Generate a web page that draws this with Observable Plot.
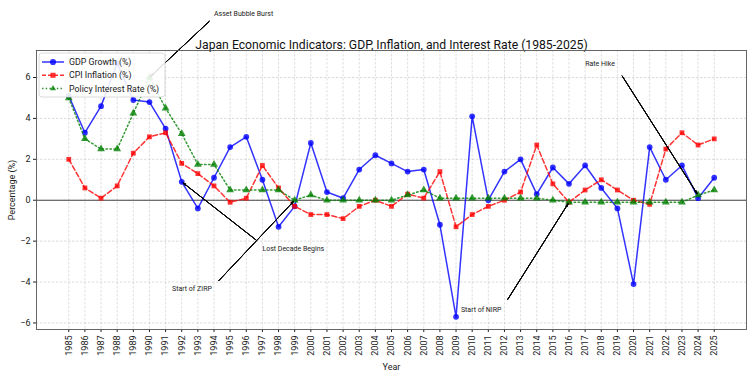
<!DOCTYPE html>
<html>
<head>
<meta charset="utf-8">
<script src="https://cdn.jsdelivr.net/npm/d3@7"></script>
<script src="https://cdn.jsdelivr.net/npm/@observablehq/plot@0.6"></script>
<style>
  body { margin: 0; background: #fff; font-family: Roboto, "Open Sans", sans-serif; }
  #wrap { width: 753px; height: 376px; }
</style>
</head>
<body>
<div id="wrap"></div>
<script>
// ---- data ----
const years = [1985,1986,1987,1988,1989,1990,1991,1992,1993,1994,1995,1996,1997,1998,1999,2000,2001,2002,2003,2004,2005,2006,2007,2008,2009,2010,2011,2012,2013,2014,2015,2016,2017,2018,2019,2020,2021,2022,2023,2024,2025];
const gdp = [5.1,3.3,4.6,6.7,4.9,4.8,3.5,0.9,-0.4,1.1,2.6,3.1,1.0,-1.3,-0.3,2.8,0.4,0.1,1.5,2.2,1.8,1.4,1.5,-1.2,-5.7,4.1,0.0,1.4,2.0,0.3,1.6,0.8,1.7,0.6,-0.4,-4.1,2.6,1.0,1.7,0.1,1.1];
const cpi = [2.0,0.6,0.1,0.7,2.3,3.1,3.3,1.8,1.3,0.7,-0.1,0.1,1.7,0.6,-0.3,-0.7,-0.7,-0.9,-0.3,0.0,-0.3,0.3,0.1,1.4,-1.3,-0.7,-0.3,0.0,0.4,2.7,0.8,-0.1,0.5,1.0,0.5,0.0,-0.2,2.5,3.3,2.7,3.0];
const rate = [5.0,3.0,2.5,2.5,4.25,6.0,4.5,3.25,1.75,1.75,0.5,0.5,0.5,0.5,0.0,0.25,0.0,0.0,0.0,0.0,0.0,0.25,0.5,0.1,0.1,0.1,0.1,0.1,0.1,0.1,0.0,-0.1,-0.1,-0.1,-0.1,-0.1,-0.1,-0.1,-0.1,0.25,0.5];
const yTicks = [-6,-4,-2,0,2,4,6];
const seriesNames = ["GDP Growth (%)", "CPI Inflation (%)", "Policy Interest Rate (%)"];
const titleText = "Japan Economic Indicators: GDP, Inflation, and Interest Rate (1985-2025)";

// annotations (data coordinates)
const annLabels = ["Asset Bubble Burst", "Lost Decade Begins", "Start of ZIRP", "Start of NIRP", "Rate Hike"];
const annTextX = [1994.0, 1997.0, 1991.4, 2009.3, 2017.0];
const annTextY = [9.14, -2.35, -4.34, -5.35, 6.66];
const annFromX = [1993.7, 1996.6, 1994.3, 2012.2, 2019.3];
const annFromY = [8.74, -1.94, -3.93, -4.85, 6.07];
const annToX = [1990, 1992, 1999, 2016, 2024];
const annToY = [6.0, 0.9, 0.0, -0.1, 0.25];

// ---- tables ----
const rows = years.map((year, i) => ({year, gdp: gdp[i], cpi: cpi[i], rate: rate[i]}));
const texts = annLabels.map((label, i) => ({label, x: annTextX[i], y: annTextY[i]}));
const arrows = annLabels.map((label, i) => ({x1: annFromX[i], y1: annFromY[i], x2: annToX[i], y2: annToY[i]}));

const all = gdp.concat(cpi, rate);
const [lo, hi] = d3.extent(all);
const yPad = (hi - lo) * 0.05;
const xPad = (years[years.length - 1] - years[0]) * 0.05;

const BLUE = "#0000ff", RED = "#ff0000", GREEN = "#008000";
const fmt = d => d < 0 ? "\u2212" + Math.abs(d) : String(d);

const arrowMarks = [8, 16, 24, 32, 40].map(a => Plot.arrow(arrows, {
  x1: "x1", y1: "y1", x2: "x2", y2: "y2", stroke: "#000", strokeWidth: 0.8,
  headLength: 5, headAngle: a, insetEnd: 2
}));

const chart = Plot.plot({
  width: 753, height: 376,
  marginTop: 50, marginLeft: 36, marginRight: 7, marginBottom: 47,
  style: {fontFamily: "Roboto, 'Open Sans', sans-serif", fontSize: "9px", background: "#fff", color: "#222", overflow: "visible"},
  x: {domain: [years[0] - xPad, years[years.length - 1] + xPad], ticks: years, tickFormat: d => String(d),
      tickRotate: -90, label: "Year", labelAnchor: "center", labelOffset: 40, labelArrow: false, tickSize: 3, tickPadding: 3},
  y: {domain: [lo - yPad, hi + yPad], ticks: yTicks, tickFormat: fmt,
      label: "Percentage (%)", labelAnchor: "center", labelOffset: 28, labelArrow: false, tickSize: 3, tickPadding: 3},
  marks: [
    Plot.gridX(years, {stroke: "#b0b0b0", strokeOpacity: 0.4, strokeDasharray: "2.5,1.5"}),
    Plot.gridY(yTicks, {stroke: "#b0b0b0", strokeOpacity: 0.45, strokeDasharray: "2.5,1.5"}),
    Plot.ruleY([0], {stroke: "#444", strokeWidth: 1.1}),
    Plot.line(rows, {x: "year", y: "gdp", stroke: BLUE, strokeWidth: 1.5, strokeOpacity: 0.8}),
    Plot.dot(rows, {x: "year", y: "gdp", fill: BLUE, fillOpacity: 0.8, r: 2.9, symbol: "circle"}),
    Plot.line(rows, {x: "year", y: "cpi", stroke: RED, strokeWidth: 1.5, strokeOpacity: 0.8, strokeDasharray: "5,2.5"}),
    Plot.dot(rows, {x: "year", y: "cpi", fill: RED, fillOpacity: 0.8, r: 2.7, symbol: "square"}),
    Plot.line(rows, {x: "year", y: "rate", stroke: GREEN, strokeWidth: 1.5, strokeOpacity: 0.8, strokeDasharray: "1.5,2.5"}),
    Plot.dot(rows, {x: "year", y: "rate", fill: GREEN, fillOpacity: 0.8, r: 2.9, symbol: "triangle"}),
    ...arrowMarks,
    Plot.text(texts, {x: "x", y: "y", text: "label", textAnchor: "start", lineAnchor: "middle", fontSize: 7, fill: "#222"}),
    Plot.text([titleText], {frameAnchor: "top", lineAnchor: "bottom", dy: -2, fontSize: 12.2, fill: "#111"}),
    Plot.frame({stroke: "#555", strokeWidth: 0.9})
  ]
});

document.getElementById("wrap").appendChild(chart);

// ---- legend (drawn into the chart's SVG, top-left inside the frame) ----
const swatches = [
  {color: BLUE, dash: null, sym: d3.symbolCircle, size: 30},
  {color: RED, dash: "4,2", sym: d3.symbolSquare, size: 26},
  {color: GREEN, dash: "1.5,2.2", sym: d3.symbolTriangle2, size: 26}
];
const lg = d3.select(chart).append("g")
  .attr("transform", "translate(39,53)")
  .attr("font-family", "Roboto, 'Open Sans', sans-serif")
  .attr("font-size", 8.8)
  .attr("text-anchor", "start");
lg.append("rect").attr("width", 126).attr("height", 44).attr("rx", 3)
  .attr("fill", "#fff").attr("fill-opacity", 0.88)
  .attr("stroke", "#d0d0d0").attr("stroke-width", 0.8);
seriesNames.forEach((name, i) => {
  const s = swatches[i];
  const g = lg.append("g").attr("transform", `translate(0,${9 + i * 13.3})`);
  g.append("line").attr("x1", 3).attr("x2", 25).attr("y1", 0).attr("y2", 0)
    .attr("stroke", s.color).attr("stroke-opacity", 0.8).attr("stroke-width", 1.5)
    .attr("stroke-dasharray", s.dash);
  g.append("path").attr("transform", "translate(14,0)")
    .attr("d", d3.symbol(s.sym, s.size)())
    .attr("fill", s.color).attr("fill-opacity", 0.8);
  g.append("text").attr("x", 30).attr("y", 0).attr("dy", "0.35em")
    .attr("text-anchor", "start").attr("fill", "#222").text(name);
});
</script>
</body>
</html>
